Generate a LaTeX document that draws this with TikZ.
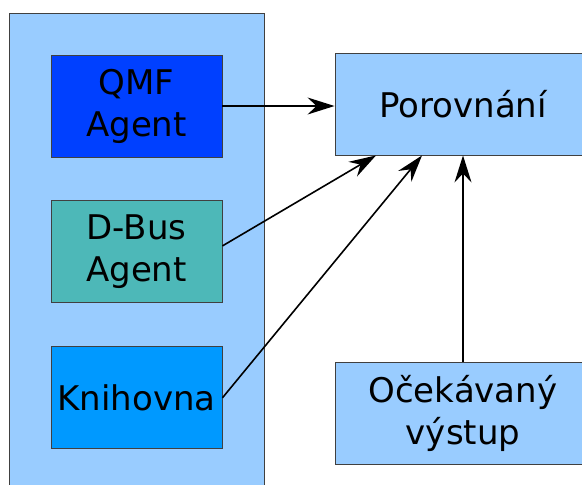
\documentclass[tikz,border=0pt]{standalone}
\usepackage{fontspec}
\setmainfont{DejaVu Sans}
\usetikzlibrary{arrows.meta, positioning}
\definecolor{paleblue}{HTML}{99CCFF}
\definecolor{qmfblue}{HTML}{0040FF}
\definecolor{dbusteal}{HTML}{4DB8B8}
\definecolor{libblue}{HTML}{0099FF}

\begin{document}
\begin{tikzpicture}[
    x=1pt, y=-1pt,
    node distance=43pt,
    box/.style={
        rectangle,
        draw=black!75,
        line width=0.9pt,
        align=center,
        inner sep=0pt,
        minimum width=171pt,
        minimum height=102pt,
        font=\fontsize{34}{42}\selectfont
    },
    widebox/.style={
        box,
        fill=paleblue,
        minimum width=256pt
    },
    arrow/.style={
        -{Stealth[length=27pt, width=17pt, inset=9pt]},
        line width=1.6pt
    }
]
\useasboundingbox (0,0) rectangle (582,485);
\clip (0,0) rectangle (582,485);

% Left group
\node[box, fill=paleblue, minimum width=255pt, minimum height=500pt] (group) at (136.5,263) {};

\node[box, fill=qmfblue] (qmf) at (136.5,106) {QMF\\Agent};

\node[box, fill=dbusteal, below=of qmf] (dbus) {D-Bus\\Agent};

\node[box, fill=libblue, below=of dbus] (lib) {Knihovna};

% Right side
\node[widebox] (compare) at (463,104) {Porovnání};

\node[widebox] (expected) at (463,413) {Očekávaný\\výstup};

% Arrows
\draw[arrow] (qmf.east) -- (qmf.east -| compare.west);
\draw[arrow] ([yshift=6pt]dbus.east) -- ([xshift=-87pt]compare.south);
\draw[arrow] (lib.east) -- ([xshift=-41pt]compare.south);
\draw[arrow] (expected) -- (compare);

\end{tikzpicture}
\end{document}
